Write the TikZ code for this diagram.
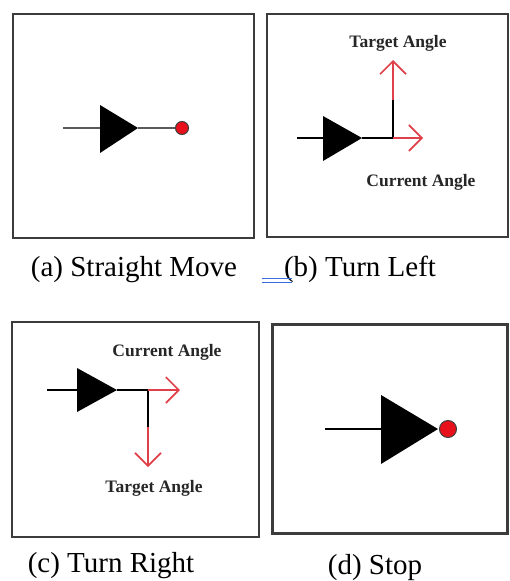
\documentclass[tikz,border=0pt]{standalone}
\usepackage{fontspec}
\setmainfont{Liberation Serif}
\usetikzlibrary{arrows.meta}
\definecolor{mvFrame}{HTML}{3C3C3C}
\definecolor{mvRed}{HTML}{E0404A}
\definecolor{mvDot}{HTML}{E8101A}
\definecolor{mvGray}{HTML}{5A5A5A}
\definecolor{mvMark}{HTML}{3A6FE0}

\begin{document}
\begin{tikzpicture}[x=1pt, y=-1pt,
    frame/.style={draw=mvFrame, line width=2pt},
    caption/.style={font=\fontsize{29}{34}\selectfont, anchor=base},
    label/.style={font=\bfseries\fontsize{17.5}{20}\selectfont, text=black!85, inner sep=0pt},
    stem/.style={line width=2pt, black},
    head/.style={fill=black},
    arrow/.style={-{Straight Barb[length=13pt,width=26pt,line width=1.6pt]}, line width=1.6pt, mvRed},
    dot/.style={circle, draw=black!75, fill=mvDot, line width=1pt, inner sep=0pt, minimum width=12pt, minimum height=13pt}
]
    \useasboundingbox (0,0) rectangle (509,581);

    % Frames
    \draw[frame] (13,14) rectangle (254,238);
    \draw[frame] (267,14) rectangle (508,237);
    \draw[frame] (12,322) rectangle (259,537);
    \draw[frame, line width=3pt] (272,324) rectangle (507.5,533);

    % (a) Straight Move
    \coordinate (aTail) at (63,128);
    \coordinate (aBase) at (100,128);
    \coordinate (aTip) at (138,128);
    \node[dot] (aDot) at (182,128) {};
    \draw[stem, mvGray] (aTail) -- (aBase);
    \draw[stem, mvGray] (aTip) -- (aDot);
    \fill[head] (100,105) -- (aTip) -- (100,153) -- cycle;
    \node[caption] (aCap) at (134,276) {(a) Straight Move};

    % (b) Turn Left
    \coordinate (bTail) at (297,138);
    \coordinate (bBase) at (323,138);
    \coordinate (bTip) at (362,138);
    \coordinate (bCorner) at (393,138);
    \coordinate (bBend) at (393,100);
    \coordinate (bUp) at (393,60);
    \coordinate (bAhead) at (423,138);
    \draw[stem] (bTail) -- (bBase);
    \draw[stem] (bTip) -- (bCorner) -- (bBend);
    \fill[head] (323,116) -- (bTip) -- (323,161) -- cycle;
    \draw[arrow] (bBend) -- (bUp);
    \draw[arrow] (bCorner) -- (bAhead);
    \node[label] (bTarget) at (398,43) {Target Angle};
    \node[label] (bCurrent) at (421,182) {Current Angle};
    \node[caption] (bCap) at (360,276) {(b) Turn Left};
    \draw[mvMark, line width=0.9pt] (262,278) -- (292,278) (262,282) -- (292,282);

    % (c) Turn Right
    \coordinate (cTail) at (47,390);
    \coordinate (cBase) at (77,390);
    \coordinate (cTip) at (117,390);
    \coordinate (cCorner) at (148,390);
    \coordinate (cBend) at (148,427);
    \coordinate (cDown) at (148,467);
    \coordinate (cAhead) at (180,390);
    \draw[stem] (cTail) -- (cBase);
    \draw[stem] (cTip) -- (cCorner) -- (cBend);
    \fill[head] (77,368) -- (cTip) -- (77,412) -- cycle;
    \draw[arrow] (cCorner) -- (cAhead);
    \draw[arrow] (cBend) -- (cDown);
    \node[label] (cCurrent) at (167,352) {Current Angle};
    \node[label] (cTarget) at (154,488) {Target Angle};
    \node[caption] (cCap) at (111,572) {(c) Turn Right};

    % (d) Stop
    \coordinate (dTail) at (325,429);
    \coordinate (dBase) at (381,429);
    \coordinate (dTip) at (438,429);
    \draw[stem] (dTail) -- (dBase);
    \fill[head] (381,395) -- (dTip) -- (381,464) -- cycle;
    \node[dot, minimum width=15pt, minimum height=17pt] (dDot) at (448,429) {};
    \node[caption] (dCap) at (375,574) {(d) Stop};
\end{tikzpicture}
\end{document}
